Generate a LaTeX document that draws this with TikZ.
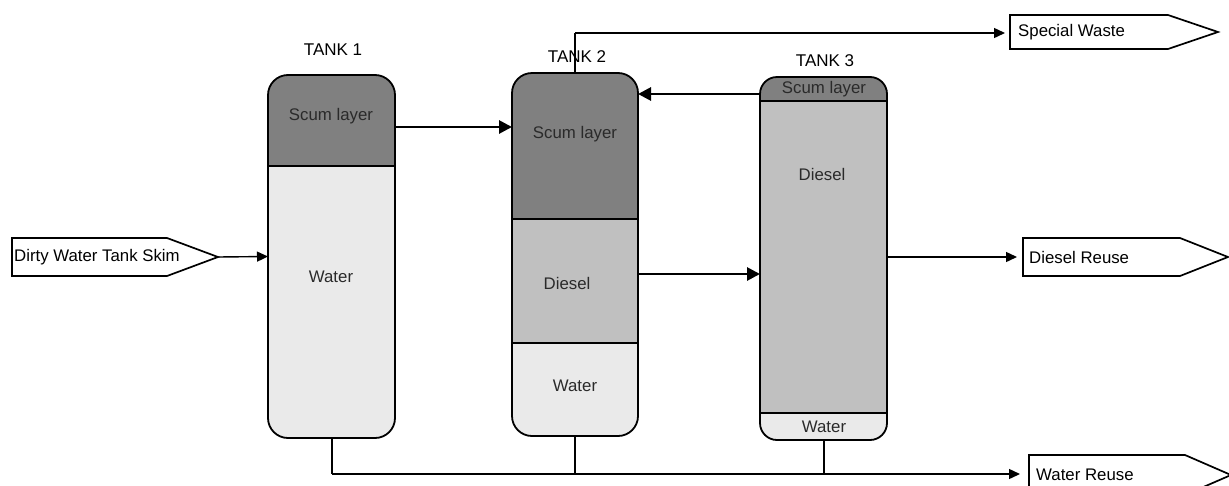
\documentclass[tikz,border=0pt]{standalone}
\usepackage{fontspec}
\setmainfont{Liberation Sans}
\usetikzlibrary{arrows.meta,calc}

\definecolor{scumgray}{HTML}{808080}
\definecolor{dieselgray}{HTML}{C0C0C0}
\definecolor{watergray}{HTML}{EAEAEA}
\definecolor{inktext}{HTML}{2A2A2A}

\tikzset{
  tankshell/.style={draw, line width=1.8pt, rectangle, rounded corners=20pt,
    minimum width=127pt, outer sep=0pt, inner sep=0pt},
  layerline/.style={line width=1.2pt},
  layertext/.style={text=inktext, font=\fontsize{16.8}{19}\selectfont, inner sep=0pt},
  tanktitle/.style={font=\fontsize{17}{19}\selectfont, inner sep=0pt},
  portbox/.style={rectangle, outer sep=0pt, inner sep=0pt},
  portline/.style={line width=1.7pt, line join=miter},
  porttext/.style={font=\fontsize{16.8}{19}\selectfont, inner sep=0pt, anchor=west},
  thinflow/.style={line width=1.4pt, -{Triangle[length=11pt,width=10pt]}},
  bigflow/.style={line width=2.8pt, -{Triangle[length=13pt,width=13pt]}},
  pipe/.style={line width=2pt},
}

\begin{document}
\begin{tikzpicture}[x=1pt,y=-1pt]
\useasboundingbox (0,0) rectangle (1229,485);

% ---------- Tank 1 ----------
\begin{scope}
  \clip[rounded corners=20pt] (268,75) rectangle (395,438);
  \fill[scumgray] (268,75) rectangle (395,166);
  \fill[watergray] (268,166) rectangle (395,438);
\end{scope}
\draw[layerline] (268,166) -- (395,166);
\node[tankshell, minimum height=363pt] (t1) at (331.5,256.5) {};
\node[tanktitle] (t1title) at (333,50) {TANK 1};
\node[layertext] (t1scum) at (331,116) {Scum layer};
\node[layertext] (t1water) at (331,277) {Water};

% ---------- Tank 2 ----------
\begin{scope}
  \clip[rounded corners=20pt] (512,73) rectangle (638,436);
  \fill[scumgray] (512,73) rectangle (638,219);
  \fill[dieselgray] (512,219) rectangle (638,343);
  \fill[watergray] (512,343) rectangle (638,436);
\end{scope}
\draw[layerline] (512,219) -- (638,219);
\draw[layerline] (512,343) -- (638,343);
\node[tankshell, minimum width=126pt, minimum height=363pt] (t2) at (575,254.5) {};
\node[tanktitle] (t2title) at (577,57) {TANK 2};
\node[layertext] (t2scum) at (575,134) {Scum layer};
\node[layertext] (t2diesel) at (567,283) {Diesel};
\node[layertext] (t2water) at (575,386) {Water};

% ---------- Tank 3 ----------
\begin{scope}
  \clip[rounded corners=17pt] (760,77) rectangle (887,440);
  \fill[scumgray] (760,77) rectangle (887,101);
  \fill[dieselgray] (760,101) rectangle (887,413);
  \fill[watergray] (760,413) rectangle (887,440);
\end{scope}
\draw[layerline] (760,101) -- (887,101);
\draw[layerline] (760,413) -- (887,413);
\node[tankshell, rounded corners=17pt, minimum height=363pt] (t3) at (823.5,258.5) {};
\node[tanktitle] (t3title) at (825,61) {TANK 3};
\node[layertext] (t3scum) at (824,89) {Scum layer};
\node[layertext] (t3diesel) at (822,174) {Diesel};
\node[layertext] (t3water) at (824,427) {Water};

% ---------- Inlet and outlet tags ----------
\node[portbox, minimum width=155pt, minimum height=38pt] (skim) at (89.5,257) {};
\draw[portline] (skim.north west) -- (skim.north east) -- ($(skim.east)+(51,0)$)
  coordinate (skimtip) -- (skim.south east) -- (skim.south west) -- cycle;
\node[porttext] at ($(skim.west)+(2,0)$) {Dirty Water Tank Skim};

\node[portbox, minimum width=158pt, minimum height=34pt] (waste) at (1089,32) {};
\draw[portline] (waste.north west) -- (waste.north east) -- ($(waste.east)+(50,0)$)
  -- (waste.south east) -- (waste.south west) -- cycle;
\node[porttext] at ($(waste.west)+(8,0)$) {Special Waste};

\node[portbox, minimum width=157pt, minimum height=38pt] (dreuse) at (1101.5,257) {};
\draw[portline] (dreuse.north west) -- (dreuse.north east) -- ($(dreuse.east)+(48,0)$)
  -- (dreuse.south east) -- (dreuse.south west) -- cycle;
\node[porttext] at ($(dreuse.west)+(6,0)$) {Diesel Reuse};

\node[portbox, minimum width=156pt, minimum height=40pt] (wreuse) at (1107,475) {};
\draw[portline] (wreuse.north west) -- (wreuse.north east) -- ($(wreuse.east)+(46,0)$)
  -- (wreuse.south east) -- (wreuse.south west) -- cycle;
\node[porttext] at ($(wreuse.west)+(7,0)$) {Water Reuse};

% ---------- Level coordinates for the transfer lines ----------
\coordinate (lvlA) at (0,127);
\coordinate (lvlB) at (0,94);
\coordinate (lvlC) at (0,274);
\coordinate (lvlD) at (0,474);
\coordinate (lvlE) at (0,33);

% ---------- Flows ----------
\draw[thinflow] (skimtip) -- (t1.west);
\draw[bigflow] (t1.east |- lvlA) -- (t2.west |- lvlA);
\draw[bigflow] (t3.west |- lvlB) -- (t2.east |- lvlB);
\draw[bigflow] (t2.east |- lvlC) -- (t3.west |- lvlC);
\draw[thinflow, shorten >=6pt] (t3.east |- dreuse.west) -- (dreuse.west);
\draw[pipe] (t2.north) -- (t2.north |- lvlE) coordinate (wastecorner);
\draw[thinflow, shorten >=5pt] (wastecorner) -- (waste.west |- lvlE);

% Water collection header along the bottom
\coordinate (hdrstart) at (t1.south |- lvlD);
\draw[pipe] (t1.south) -- (hdrstart);
\draw[pipe] (t2.south) -- (t2.south |- lvlD);
\draw[pipe] (t3.south) -- (t3.south |- lvlD);
\draw[pipe] (hdrstart) -- (t3.south |- lvlD);
\draw[thinflow, shorten >=9pt] (t3.south |- lvlD) -- (wreuse.west |- lvlD);
\end{tikzpicture}
\end{document}
